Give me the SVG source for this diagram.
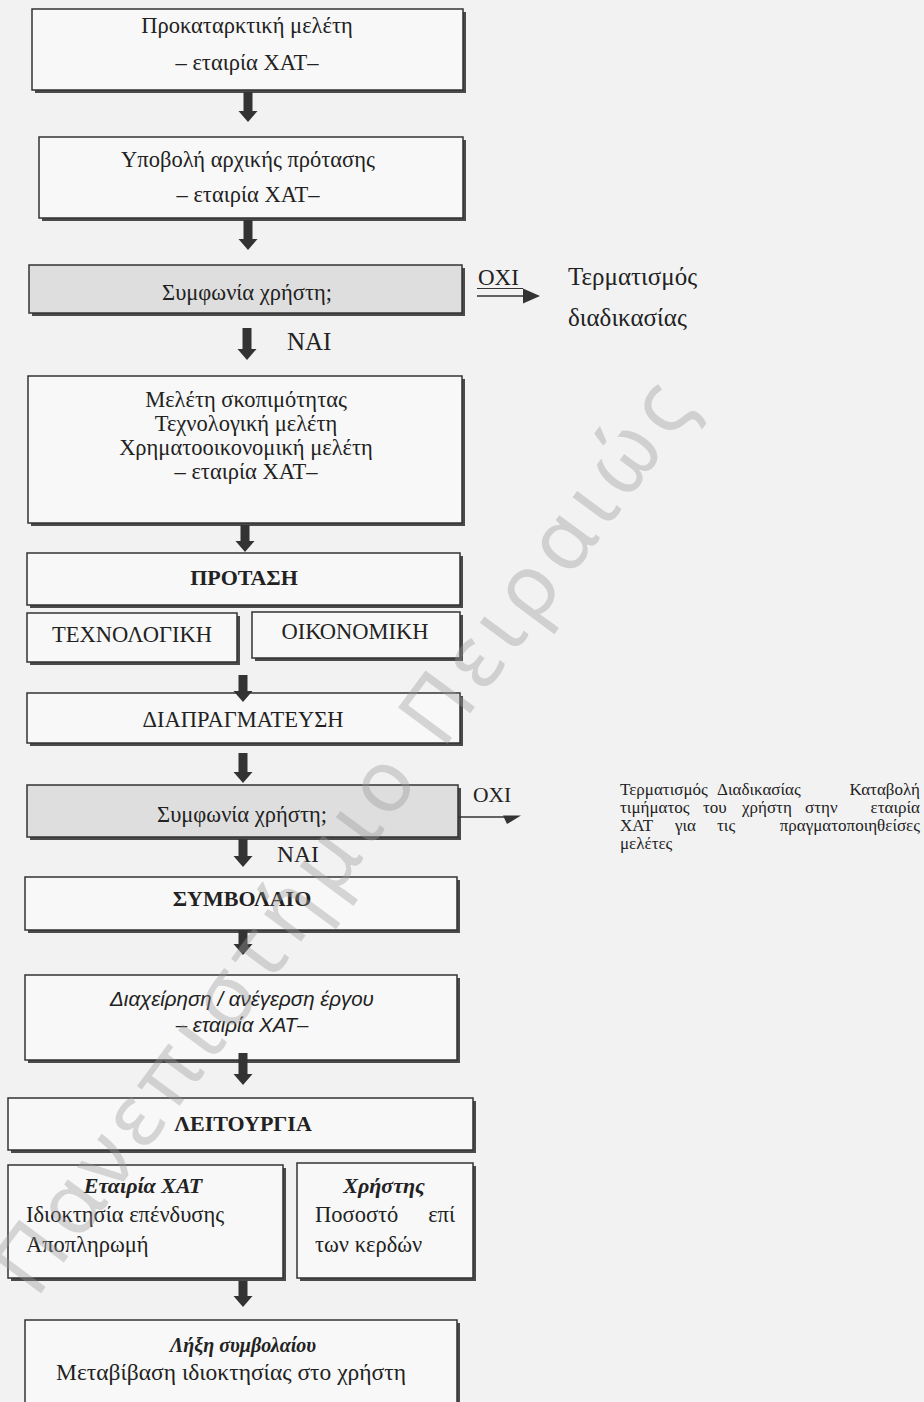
<svg xmlns="http://www.w3.org/2000/svg" width="924" height="1402" viewBox="0 0 924 1402">
  <style>
    .bg { fill: #f2f2f2; }
    .shadow { fill: #4a4a4a; }
    .box { fill: #f8f8f8; stroke: #333; stroke-width: 1.5; }
    .gray { fill: #dedede; stroke: #333; stroke-width: 1.5; }
    .t { font-family: "Liberation Serif", "Times New Roman", serif; font-size: 22.5px; fill: #222; }
    .c { text-anchor: middle; }
    .b { font-weight: bold; font-size: 22px; }
    .bi { font-weight: bold; font-style: italic; font-size: 22px; }
    .sans { font-family: "Liberation Sans", Arial, sans-serif; font-style: italic; font-size: 20.5px; fill: #222; }
    .side { font-family: "Liberation Serif", "Times New Roman", serif; font-size: 17px; fill: #222; }
    .arrow { fill: #333; }
    .ln { stroke: #333; stroke-width: 1.5; fill: none; }
    .wm { font-family: "Noto Sans", "DejaVu Sans", sans-serif; font-size: 86px; fill: #9a9a9a; opacity: 0.38; }
  </style>

  <rect class="bg" x="0" y="0" width="924" height="1402"/>

  <!-- process steps -->
  <g id="n1">
    <rect class="shadow" x="35" y="12" width="431" height="81"/>
    <rect class="box" x="32" y="9" width="431" height="81"/>
    <text class="t c" x="247" y="33">Προκαταρκτική μελέτη</text>
    <text class="t c" x="247" y="70">– εταιρία ΧΑΤ–</text>
  </g>

  <g id="n2">
    <rect class="shadow" x="42" y="140" width="424" height="81"/>
    <rect class="box" x="39" y="137" width="424" height="81"/>
    <text class="t c" x="248" y="167">Υποβολή αρχικής πρότασης</text>
    <text class="t c" x="248" y="202">– εταιρία ΧΑΤ–</text>
  </g>

  <g id="n3">
    <rect class="shadow" x="32" y="268" width="433" height="48"/>
    <rect class="gray" x="29" y="265" width="433" height="48"/>
    <text class="t c" x="247" y="300">Συμφωνία χρήστη;</text>
  </g>

  <g id="n3-no">
    <text class="t" x="478" y="285" style="font-size:23px">ΟΧΙ</text>
    <line class="ln" x1="477" y1="288.5" x2="523" y2="288.5" style="stroke-width:1.2"/>
    <text class="t" x="568" y="285" style="font-size:25px">Τερματισμός</text>
    <text class="t" x="568" y="326" style="font-size:25px">διαδικασίας</text>
  </g>

  <g id="n3-yes">
    <text class="t" x="287" y="350" style="font-size:25px">ΝΑΙ</text>
  </g>

  <g id="n4">
    <rect class="shadow" x="31" y="379" width="434" height="147"/>
    <rect class="box" x="28" y="376" width="434" height="147"/>
    <text class="t c" x="246" y="407">Μελέτη σκοπιμότητας</text>
    <text class="t c" x="246" y="431">Τεχνολογική μελέτη</text>
    <text class="t c" x="246" y="455">Χρηματοοικονομική μελέτη</text>
    <text class="t c" x="246" y="479">– εταιρία ΧΑΤ–</text>
  </g>

  <g id="n5">
    <rect class="shadow" x="30" y="556" width="433" height="52"/>
    <rect class="box" x="27" y="553" width="433" height="52"/>
    <text class="t b c" x="244" y="585">ΠΡΟΤΑΣΗ</text>
  </g>

  <g id="n6">
    <rect class="shadow" x="30" y="616" width="210" height="49"/>
    <rect class="box" x="27" y="613" width="210" height="49"/>
    <text class="t c" x="132" y="642">ΤΕΧΝΟΛΟΓΙΚΗ</text>
  </g>

  <g id="n7">
    <rect class="shadow" x="255" y="615" width="208" height="46"/>
    <rect class="box" x="252" y="612" width="208" height="46"/>
    <text class="t c" x="355" y="639">ΟΙΚΟΝΟΜΙΚΗ</text>
  </g>

  <g id="n8">
    <rect class="shadow" x="30" y="696" width="433" height="50"/>
    <rect class="box" x="27" y="693" width="433" height="50"/>
    <text class="t c" x="243" y="727">ΔΙΑΠΡΑΓΜΑΤΕΥΣΗ</text>
  </g>

  <g id="n9">
    <rect class="shadow" x="30" y="788" width="431" height="52"/>
    <rect class="gray" x="27" y="785" width="431" height="52"/>
    <text class="t c" x="242" y="822">Συμφωνία χρήστη;</text>
  </g>

  <g id="n9-no">
    <text class="t" x="473" y="802" style="font-size:21.5px">ΟΧΙ</text>
    <text class="side" y="795"><tspan x="620">Τερματισμός</tspan><tspan x="717">Διαδικασίας</tspan><tspan x="920" text-anchor="end">Καταβολή</tspan></text>
    <text class="side" y="813"><tspan x="620">τιμήματος</tspan><tspan x="703">του</tspan><tspan x="742">χρήστη</tspan><tspan x="805">στην</tspan><tspan x="920" text-anchor="end">εταιρία</tspan></text>
    <text class="side" y="831"><tspan x="620">ΧΑΤ</tspan><tspan x="675">για</tspan><tspan x="717">τις</tspan><tspan x="920" text-anchor="end">πραγματοποιηθείσες</tspan></text>
    <text class="side" x="620" y="849">μελέτες</text>
  </g>

  <g id="n9-yes">
    <text class="t" x="277" y="862" style="font-size:23.5px">ΝΑΙ</text>
  </g>

  <g id="n10">
    <rect class="shadow" x="28" y="880" width="432" height="53"/>
    <rect class="box" x="25" y="877" width="432" height="53"/>
    <text class="t b c" x="242" y="906">ΣΥΜΒΟΛΑΙΟ</text>
  </g>

  <g id="n11">
    <rect class="shadow" x="28" y="978" width="432" height="85"/>
    <rect class="box" x="25" y="975" width="432" height="85"/>
    <text class="sans c" x="242" y="1006">Διαχείρηση / ανέγερση έργου</text>
    <text class="sans c" x="242" y="1032">– εταιρία ΧΑΤ–</text>
  </g>

  <g id="n12">
    <rect class="shadow" x="11" y="1101" width="465" height="52"/>
    <rect class="box" x="8" y="1098" width="465" height="52"/>
    <text class="t b c" x="243" y="1131">ΛΕΙΤΟΥΡΓΙΑ</text>
  </g>

  <g id="n13">
    <rect class="shadow" x="11" y="1168" width="275" height="113"/>
    <rect class="box" x="8" y="1165" width="275" height="113"/>
    <text class="t bi c" x="143" y="1193">Εταιρία ΧΑΤ</text>
    <text class="t" x="26" y="1222">Ιδιοκτησία επένδυσης</text>
    <text class="t" x="26" y="1252">Αποπληρωμή</text>
  </g>

  <g id="n14">
    <rect class="shadow" x="300" y="1166" width="176" height="115"/>
    <rect class="box" x="297" y="1163" width="176" height="115"/>
    <text class="t bi c" x="384" y="1193">Χρήστης</text>
    <text class="t" x="315" y="1222">Ποσοστό</text>
    <text class="t" x="455" y="1222" text-anchor="end">επί</text>
    <text class="t" x="315" y="1252">των κερδών</text>
  </g>

  <g id="n15">
    <rect class="shadow" x="28" y="1323" width="432" height="100"/>
    <rect class="box" x="25" y="1320" width="432" height="100"/>
    <text class="t bi c" x="243" y="1352" style="font-size:20px">Λήξη συμβολαίου</text>
    <text class="t c" x="231" y="1380" style="font-size:23.5px">Μεταβίβαση ιδιοκτησίας στο χρήστη</text>
  </g>

  <!-- connectors -->
  <g id="connectors">
    <polygon class="arrow" points="243.5,92 252.5,92 252.5,111 257.5,111 248,122 238.5,111 243.5,111"/>
    <polygon class="arrow" points="243.5,220 252.5,220 252.5,239 257.5,239 248,250 238.5,239 243.5,239"/>
    <polygon class="arrow" points="242.5,328 251.5,328 251.5,349 256.5,349 247,360 237.5,349 242.5,349"/>
    <polygon class="arrow" points="240.5,525 249.5,525 249.5,541 254.5,541 245,552 235.5,541 240.5,541"/>
    <polygon class="arrow" points="238.5,675 247.5,675 247.5,691 252.5,691 243,702 233.5,691 238.5,691"/>
    <polygon class="arrow" points="238.5,753 247.5,753 247.5,772 252.5,772 243,783 233.5,772 238.5,772"/>
    <polygon class="arrow" points="238.5,839 247.5,839 247.5,856 252.5,856 243,867 233.5,856 238.5,856"/>
    <polygon class="arrow" points="238.5,930 247.5,930 247.5,944 252.5,944 243,955 233.5,944 238.5,944"/>
    <polygon class="arrow" points="238.5,1053 247.5,1053 247.5,1074 252.5,1074 243,1085 233.5,1074 238.5,1074"/>
    <polygon class="arrow" points="238.5,1281 247.5,1281 247.5,1296 252.5,1296 243,1307 233.5,1296 238.5,1296"/>
    <!-- "no" branches -->
    <line class="ln" x1="477" y1="296" x2="526" y2="296"/>
    <polygon class="arrow" points="523,288.5 540,296 523,303.5"/>
    <line class="ln" x1="458" y1="817" x2="506" y2="817"/>
    <polygon class="arrow" points="503,815.5 521,815.5 507,824"/>
  </g>

  <!-- diagonal watermark -->
  <text class="wm" x="0" y="0" transform="translate(36,1300) rotate(-53.5)" textLength="1110" lengthAdjust="spacing">Πανεπιστήμιο Πειραιώς</text>
</svg>
